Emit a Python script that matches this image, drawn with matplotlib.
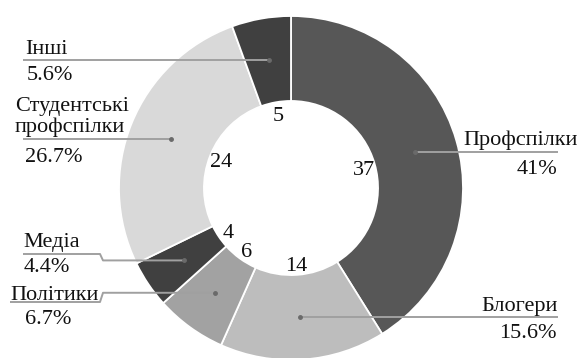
import numpy as np
import matplotlib
matplotlib.use("Agg")
import matplotlib.pyplot as plt

categories = ["Профспілки", "Блогери", "Політики", "Медіа", "Студентські\nпрофспілки", "Інші"]
values = [37, 14, 6, 4, 24, 5]
pct_labels = ["41%", "15.6%", "6.7%", "4.4%", "26.7%", "5.6%"]
colors = ["#575757", "#bdbdbd", "#a2a2a2", "#404040", "#d9d9d9", "#404040"]

W, H = 582, 358
plt.rcParams['font.family'] = ['Liberation Serif', 'DejaVu Serif']

fig = plt.figure(figsize=(W / 100, H / 100), dpi=100)
ax = fig.add_axes([0, 0, 1, 1])

def Y(y):
    return H - y

cx, cy, R = 291, Y(188), 172
width = 0.494

wedges, _ = ax.pie(values, colors=colors, startangle=90, counterclock=False,
                   center=(cx, cy), radius=R,
                   wedgeprops=dict(width=R * width, edgecolor="white", linewidth=1.3))
ax.set_xlim(0, W)
ax.set_ylim(0, H)
ax.set_aspect('equal')
ax.axis('off')

fs = 16
# layout of outside labels (pixel coords, top-origin): name pos, pct pos, leader path
layout = [
    dict(name=(578, 140, 'right'), pct=(557, 170, 'right'), path=[(558, 154)]),
    dict(name=(558, 307, 'right'), pct=(557, 333, 'right'), path=[(558, 320)]),
    dict(name=(10, 295, 'left'), pct=(25, 320, 'left'), path=[(10, 302), (100, 302), (103, None)]),
    dict(name=(23, 242, 'left'), pct=(24, 267, 'left'), path=[(23, 254), (100, 254), (103, None)]),
    dict(name=(15, 117, 'left'), pct=(25, 157, 'left'), path=[(23, 142)]),
    dict(name=(25, 50, 'left'), pct=(27, 75, 'left'), path=[(23, 62)]),
]

for w, lab, pct, lay, v in zip(wedges, categories, pct_labels, layout, values):
    mid = np.deg2rad((w.theta1 + w.theta2) / 2)
    rm = R * (1 - width / 2)
    px, py = cx + rm * np.cos(mid), cy + rm * np.sin(mid)
    pts = []
    for (x, y) in lay['path']:
        pts.append((x, Y(y) if y is not None else py))
    pts.append((px, py))
    xs = [p[0] for p in pts]
    ys = [p[1] for p in pts]
    if len(pts) == 2:
        ys[0] = py
    ax.plot(xs, ys, color="#a0a0a0", lw=1.4, solid_capstyle='butt', zorder=3)
    ax.plot([px], [py], 'o', color="#6a6a6a", ms=2.5, zorder=4)
    rl = R * 0.44
    ax.text(cx + rl * np.cos(mid), cy - 3 + rl * np.sin(mid), str(v), fontsize=fs,
            ha='center', va='center', color='#111111', zorder=5)
    nx, ny, ha = lay['name']
    ax.text(nx, Y(ny), lab, fontsize=fs, ha=ha, va='center', color='#111111',
            linespacing=1.05, zorder=5)
    qx, qy, qha = lay['pct']
    ax.text(qx, Y(qy), pct, fontsize=fs, ha=qha, va='center', color='#111111', zorder=5)

fig.savefig("out.png", dpi=100)
